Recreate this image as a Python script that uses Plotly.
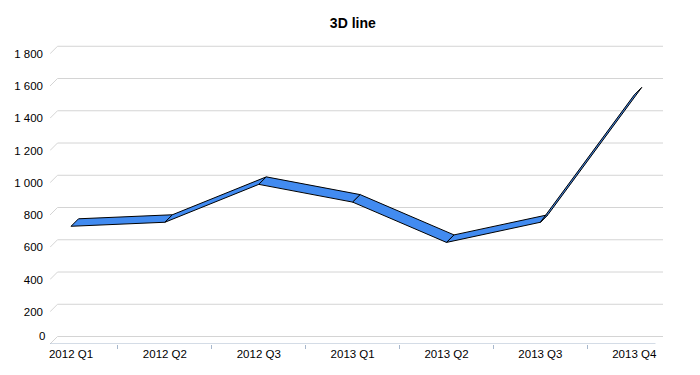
import plotly.graph_objects as go

# ---- data ----
categories = ["2012 Q1", "2012 Q2", "2012 Q3", "2013 Q1", "2013 Q2", "2013 Q3", "2013 Q4"]
values = [730, 755, 990, 880, 630, 755, 1545]
y_tick_vals = [0, 200, 400, 600, 800, 1000, 1200, 1400, 1600, 1800]
y_tick_labels = ["0", "200", "400", "600", "800", "1 000", "1 200", "1 400", "1 600", "1 800"]
title_text = "3D line"

# ---- geometry / style ----
# the page body has an 8px margin, so the figure is 692x367 to fill a 700x375 window
fig_w, fig_h = 692, 367
px_per_cat = 93.8
px_per_unit = 0.16125
depth_px = 7.5
dx = depth_px / px_per_cat
dy = depth_px / px_per_unit
x_left = -0.224
x_front_right = 6.226
x_right = x_front_right + dx
y_max = 304 / px_per_unit

fill_col = "#428BF0"
grid_col = "#D4D4D4"
axis_col = "#A8B8CC"

xs = list(range(len(categories)))
fig = go.Figure()

# back gridlines with depth diagonal
for v in y_tick_vals:
    fig.add_trace(go.Scatter(
        x=[x_left, x_left + dx, x_right], y=[v, v + dy, v + dy],
        mode="lines", line=dict(color=grid_col, width=1),
        hoverinfo="skip", showlegend=False, cliponaxis=False))

# front axis line
fig.add_trace(go.Scatter(
    x=[x_left, x_front_right], y=[0, 0], mode="lines",
    line=dict(color=axis_col, width=1), hoverinfo="skip", showlegend=False,
    cliponaxis=False))

# 3D ribbon segments
for i in range(len(xs) - 1):
    x0, x1 = xs[i], xs[i + 1]
    v0, v1 = values[i], values[i + 1]
    fig.add_trace(go.Scatter(
        x=[x0, x1, x1 + dx, x0 + dx, x0],
        y=[v0, v1, v1 + dy, v0 + dy, v0],
        mode="lines", fill="toself", fillcolor=fill_col,
        line=dict(color="#000000", width=1),
        hoverinfo="skip", showlegend=False))

fig.update_layout(
    template="none",
    width=fig_w, height=fig_h,
    margin=dict(l=42, r=37, t=32, b=31, autoexpand=False),
    paper_bgcolor="white", plot_bgcolor="white",
    font=dict(family="Liberation Sans, Arial, sans-serif", size=11.5, color="#000000"),
    title=dict(text="<b>" + title_text + "</b>", x=0.494, xref="paper", xanchor="center",
               y=1 - 15 / fig_h, yref="container", yanchor="middle",
               font=dict(size=14, color="#000000")),
    showlegend=False,
    xaxis=dict(
        range=[x_left, x_right], showgrid=False, zeroline=False, showline=False,
        automargin=False,
        tickmode="array", tickvals=xs, ticktext=categories, ticks="",
        ticklabelstandoff=1,
        minor=dict(tickvals=[i + 0.5 for i in xs[:-1]], ticks="outside", ticklen=4,
                   tickcolor=axis_col, showgrid=False),
        fixedrange=True),
    yaxis=dict(
        range=[0, y_max], showgrid=False, zeroline=False, showline=False,
        automargin=False,
        tickmode="array", tickvals=y_tick_vals[1:], ticktext=y_tick_labels[1:],
        ticks="", ticklabelstandoff=6, fixedrange=True),
)

# zero label sits slightly above the front axis
fig.add_annotation(x=0, xref="paper", xanchor="right", xshift=-3,
                   y=0, yref="y", yanchor="middle", yshift=8,
                   text=y_tick_labels[0], showarrow=False,
                   font=dict(size=11.5, color="#000000"))

fig.write_html("out.html")
